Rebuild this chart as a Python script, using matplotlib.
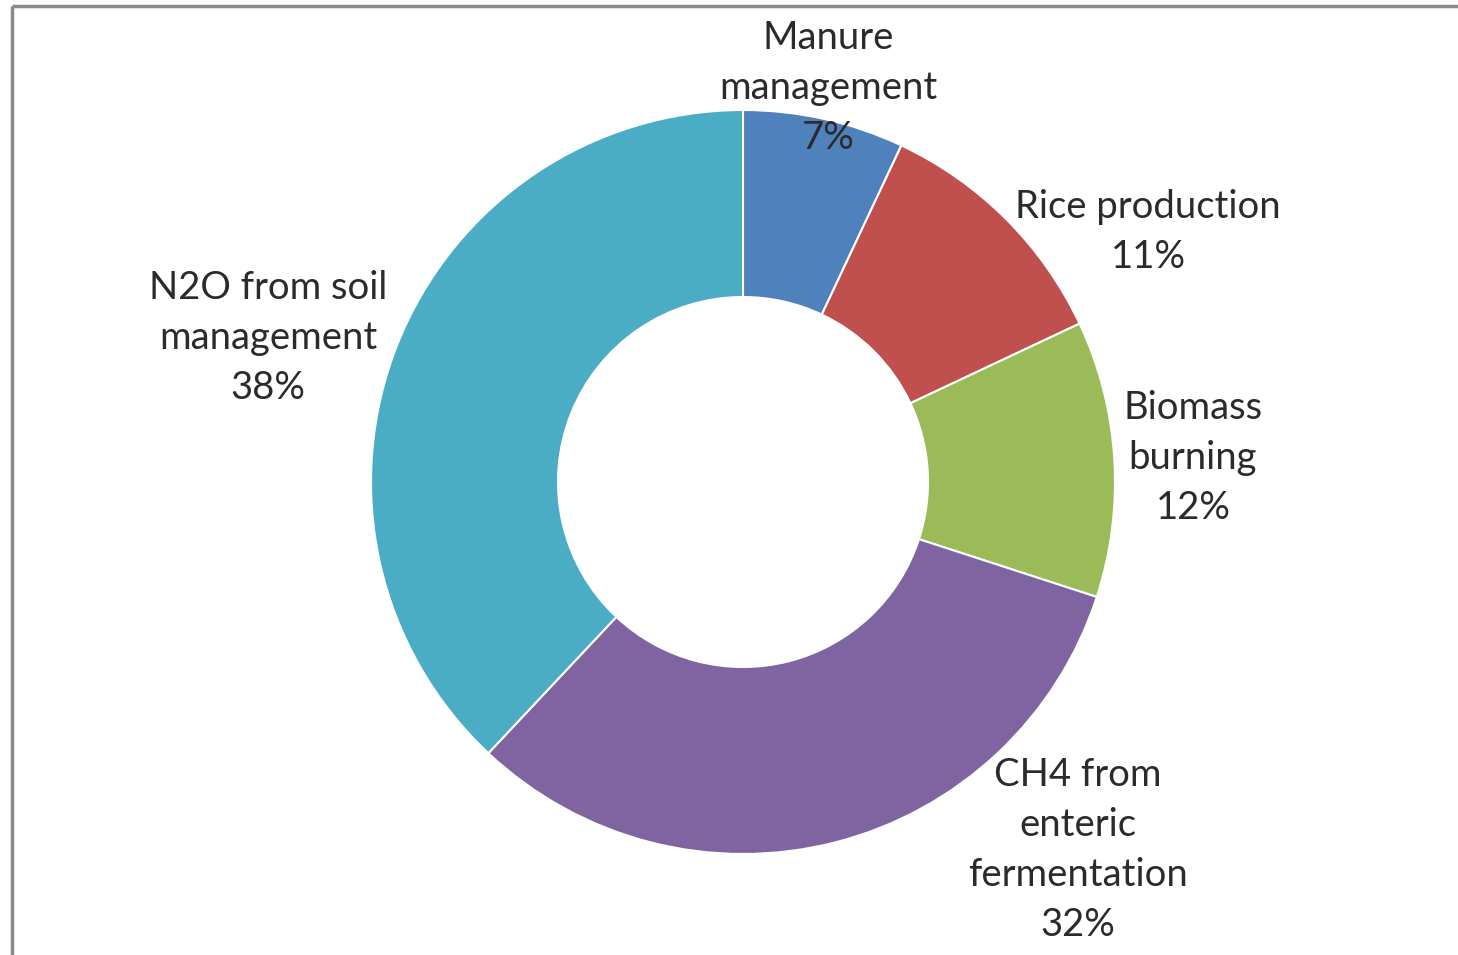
import numpy as np
import matplotlib
matplotlib.use("Agg")
import matplotlib.pyplot as plt

plt.rcParams['font.family'] = ['Lato', 'DejaVu Sans']

labels = ["Manure\nmanagement", "Rice production", "Biomass\nburning",
          "CH4 from\nenteric\nfermentation", "N2O from soil\nmanagement"]
shares = [7, 11, 12, 32, 38]
colours = ["#4F81BD", "#C0504D", "#9BBB59", "#8064A2", "#4BACC6"]
# where each label block is centred (pixels from top-left)
label_pos = [(828, 88), (1148, 232), (1193, 458), (1078, 850), (268, 338)]

W, H = 1458, 955
fig = plt.figure(figsize=(W / 100, H / 100), dpi=100)
ax = fig.add_axes([0, 0, 1, 1])

cx, cy, R = 743, H - 482, 372
ax.pie(shares, colors=colours, startangle=90, counterclock=False,
       center=(cx, cy), radius=R, frame=True,
       wedgeprops=dict(width=R - 185, edgecolor='white', linewidth=1.5))
ax.set_xlim(0, W)
ax.set_ylim(0, H)
ax.set_aspect('equal')
ax.axis('off')

for lab, v, (px, py) in zip(labels, shares, label_pos):
    ax.text(px, H - py, f"{lab}\n{v}%", ha='center', va='center',
            fontsize=27.5, color='#2b2b2b', linespacing=1.49)

# window border (top and left)
ax.plot([12, W], [H - 6, H - 6], color='#8a8a8a', lw=2.5, solid_capstyle='butt')
ax.plot([12, 12], [0, H - 6], color='#8a8a8a', lw=2.5, solid_capstyle='butt')

fig.savefig("out.png", dpi=100)
